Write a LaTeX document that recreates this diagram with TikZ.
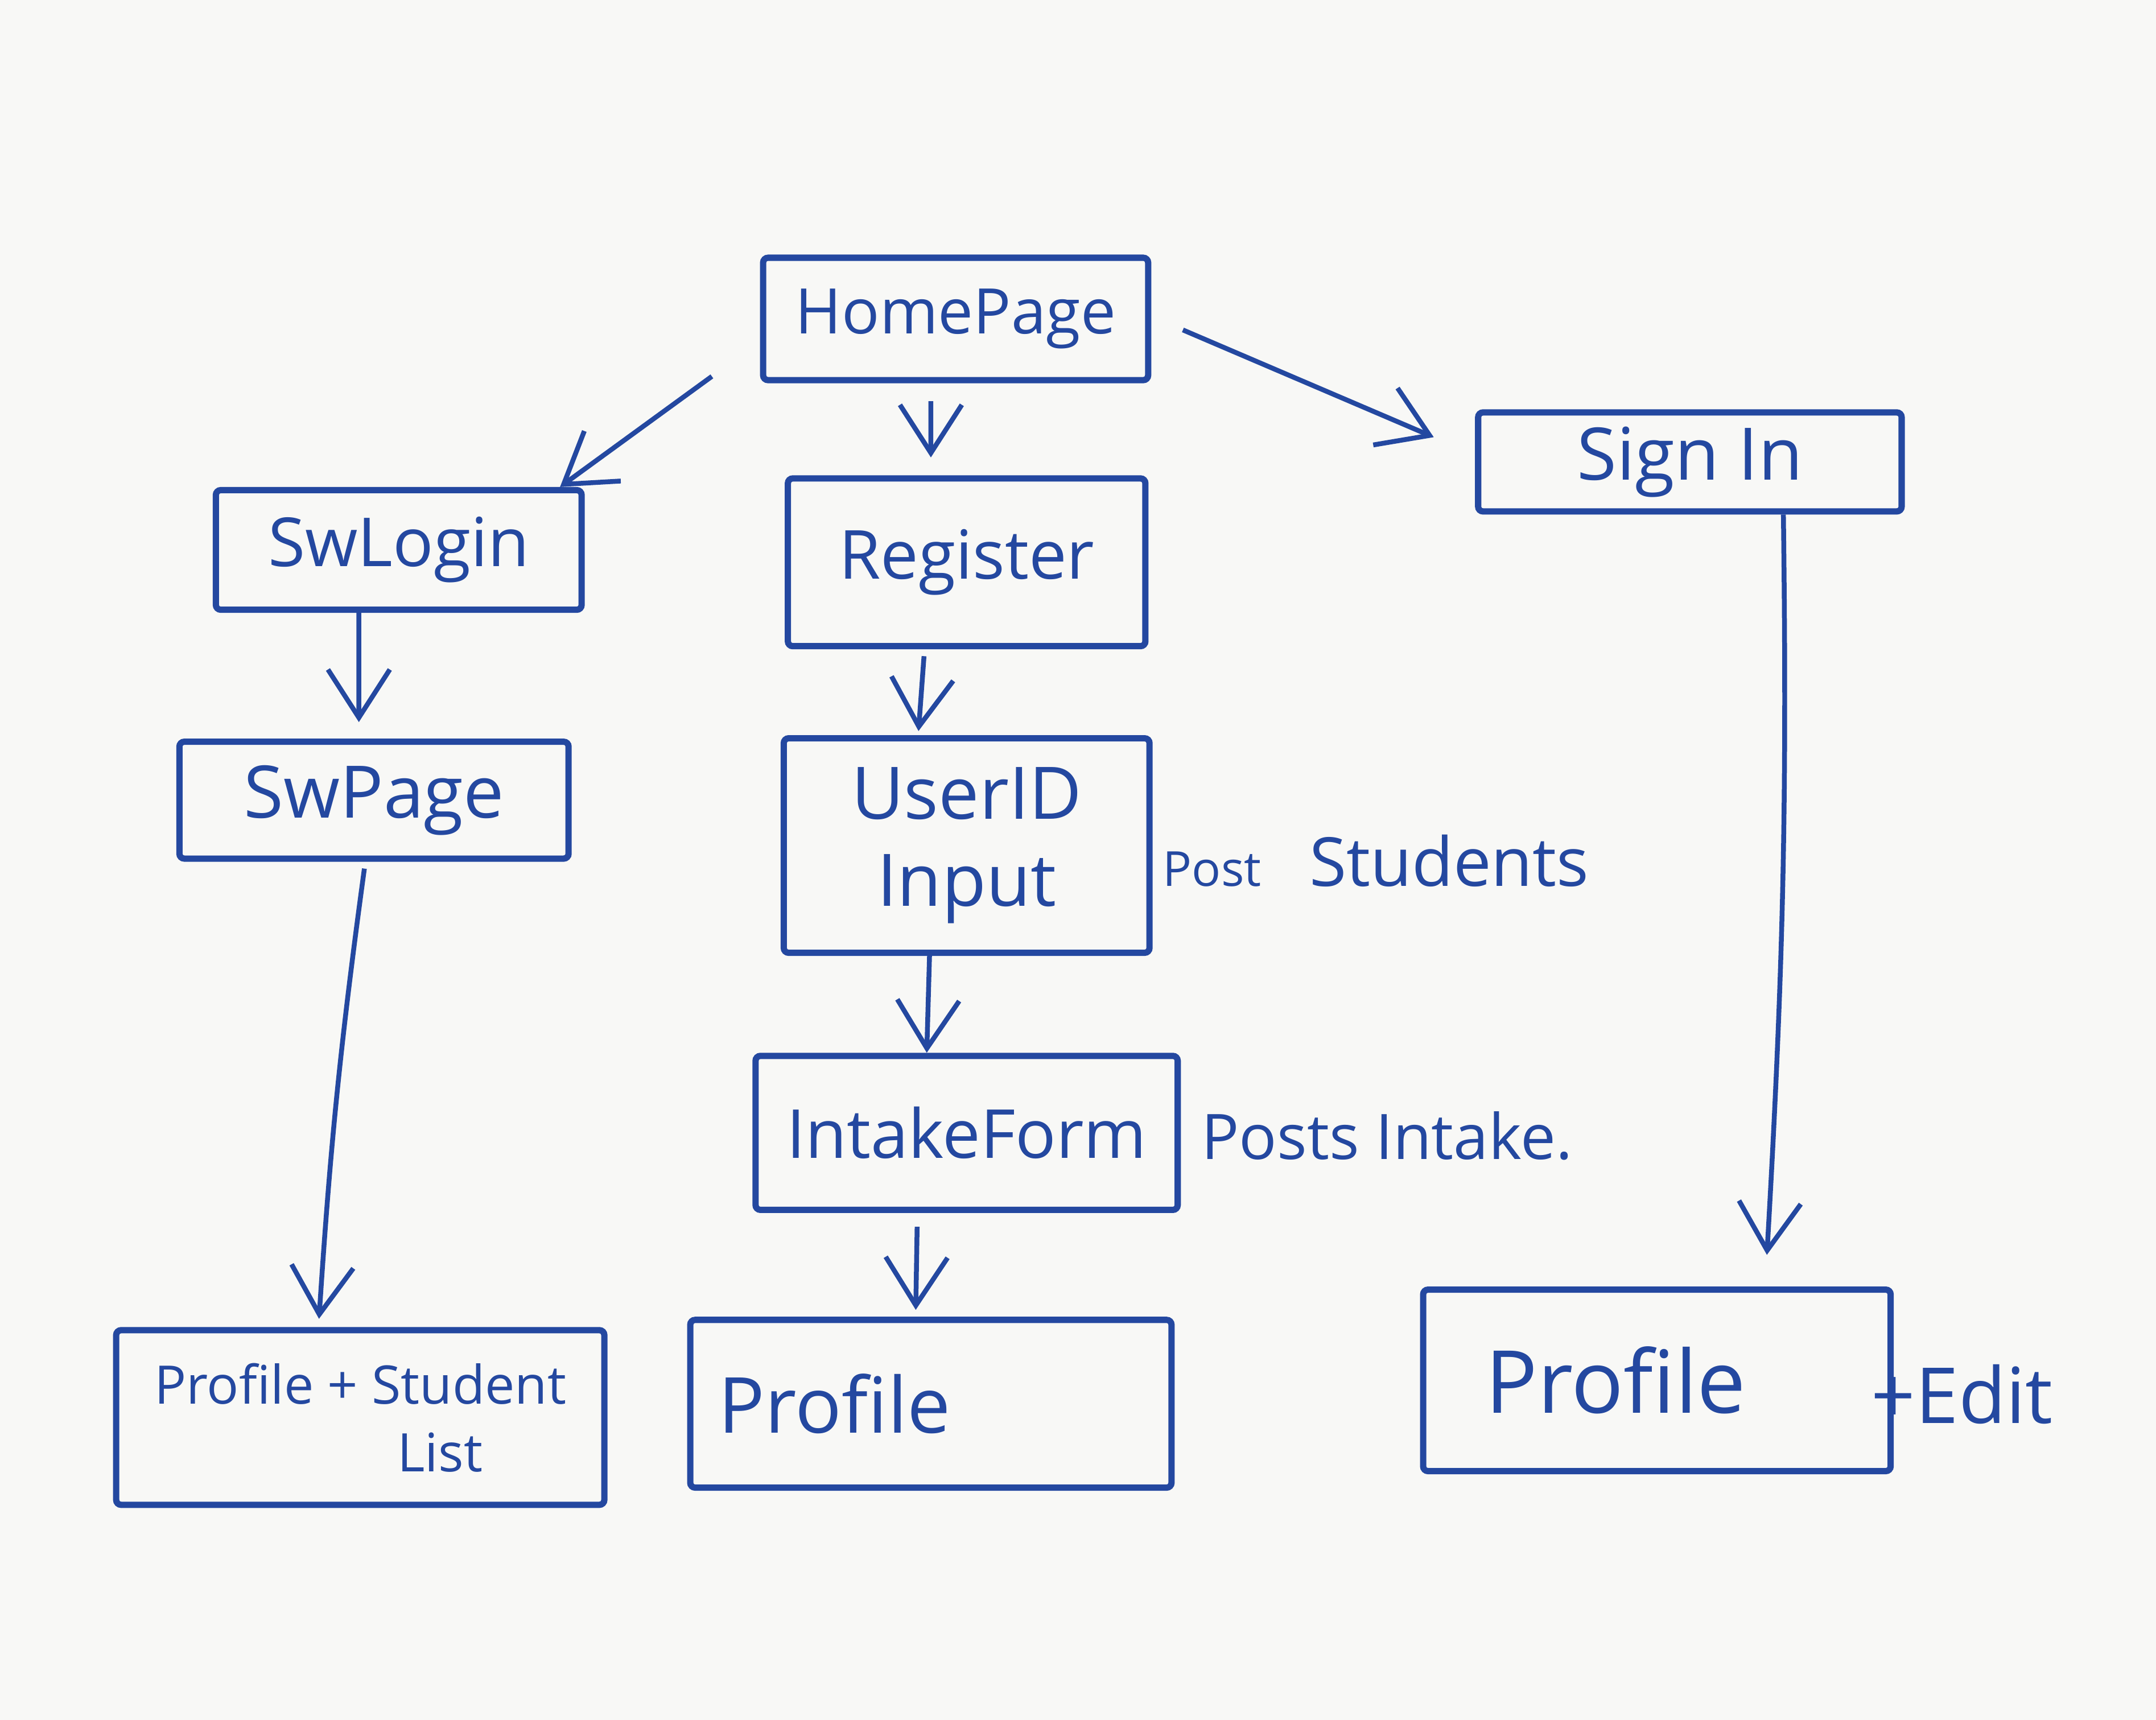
\documentclass[tikz,border=0pt]{standalone}
\usepackage{fontspec}
\setmainfont{Open Sans}
\usetikzlibrary{arrows.meta}
\definecolor{ink}{RGB}{36,72,160}
\definecolor{board}{RGB}{248,248,246}
\tikzset{
  page/.style={draw=ink, line width=1.3pt, text=ink, inner sep=0pt, rounded corners=1pt, font=\fontsize{14}{16}\selectfont},
  note/.style={text=ink, anchor=west, inner sep=0pt, font=\fontsize{14}{16}\selectfont},
  flow/.style={draw=ink, line width=1pt, -{Straight Barb[length=3.5mm,width=4.5mm]}}
}

\begin{document}
\begin{tikzpicture}
    \fill[board] (0,0) rectangle (15.68,12.51);
    \node[page, minimum width=2.80cm, minimum height=0.89cm, font=\fontsize{13}{15}\selectfont] (home) at (6.95,10.19) {HomePage};
    \node[page, minimum width=3.08cm, minimum height=0.72cm, font=\fontsize{15}{17}\selectfont] (signin) at (12.29,9.15) {Sign In};
    \node[page, minimum width=2.66cm, minimum height=0.87cm] (swlogin) at (2.90,8.51) {SwLogin};
    \node[page, minimum width=2.60cm, minimum height=1.22cm] (register) at (7.03,8.42) {Register};
    \node[page, minimum width=2.83cm, minimum height=0.85cm, font=\fontsize{15}{17}\selectfont] (swpage) at (2.72,6.69) {SwPage};
    \node[page, minimum width=2.66cm, minimum height=1.56cm, align=center, font=\fontsize{15}{18}\selectfont] (userid) at (7.03,6.36) {UserID\\Input};
    \node[page, minimum width=3.07cm, minimum height=1.12cm] (intake) at (7.03,4.27) {IntakeForm};
    \node[page, minimum width=3.55cm, minimum height=1.27cm, align=center, font=\fontsize{11}{14}\selectfont] (profstud) at (2.62,2.20) {Profile + Student\\\hspace*{3em}List};
    \node[page, minimum width=3.50cm, minimum height=1.22cm, font=\fontsize{16}{18}\selectfont] (profmid) at (6.77,2.30) {Profile\hspace*{1.4cm}};
    \node[page, minimum width=3.40cm, minimum height=1.32cm, font=\fontsize{18}{20}\selectfont] (profright) at (12.05,2.47) {Profile\hspace*{0.6cm}};
    \node[note, font=\fontsize{16}{18}\selectfont] (edit) at ([xshift=-1.7mm,yshift=-1mm]profright.east) {+Edit};
    \node[note] (poststud) at (8.45,6.25) {{\fontsize{10}{12}\selectfont Post}\hspace{3.5mm}Students};
    \node[note, font=\fontsize{13}{15}\selectfont] (postint) at (8.73,4.25) {Posts Intake.};
    \draw[flow] ([xshift=-3.5mm,yshift=0.5mm]home.south west) -- ([xshift=-1.8mm]swlogin.north east);
    \draw[flow] ([xshift=-1.8mm,yshift=-1.3mm]home.south) -- ([xshift=-2.6mm,yshift=1.3mm]register.north);
    \draw[flow] ([xshift=2.3mm,yshift=-0.8mm]home.east) -- ([xshift=-3mm,yshift=1.8mm]signin.west);
    \draw[flow] ([xshift=6.8mm]signin.south) to[bend left=2] ([xshift=8mm,yshift=2.3mm]profright.north);
    \draw[flow] ([xshift=-2.9mm]swlogin.south) -- ([xshift=-1.1mm,yshift=1.2mm]swpage.north);
    \draw[flow] ([xshift=-0.7mm,yshift=-0.5mm]swpage.south) to[bend right=2] ([xshift=-3mm,yshift=0.6mm]profstud.north);
    \draw[flow] ([xshift=-3.1mm,yshift=-0.5mm]register.south) -- ([xshift=-3.5mm,yshift=0.3mm]userid.north);
    \draw[flow] ([xshift=-2.7mm]userid.south) -- ([xshift=-2.9mm]intake.north);
    \draw[flow] ([xshift=-3.6mm,yshift=-1mm]intake.south) -- ([xshift=-1.1mm,yshift=0.5mm]profmid.north);
\end{tikzpicture}
\end{document}
